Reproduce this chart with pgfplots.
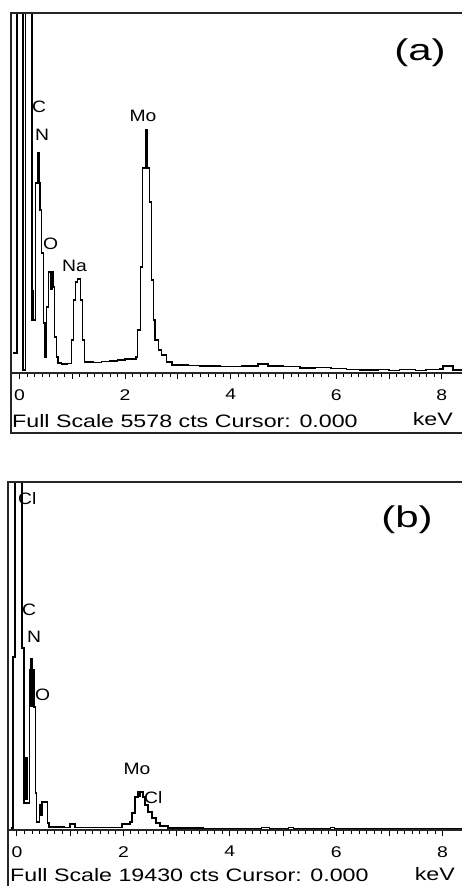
\documentclass[border=0pt]{standalone}
\usepackage{pgfplots}
\pgfplotsset{compat=1.18}
\usepackage{graphicx}
\usepackage{fontspec}
\setmainfont{Liberation Sans}

% EDS spectra, panel (a) and (b)
\pgfplotstableread{
E c
-0.123 310
-0.047 9000
0.066 46
0.114 9000
0.237 820
0.307 2943
0.388 2525
0.420 1859
0.451 775
0.483 248
0.515 1022
0.545 1564
0.634 1332
0.663 558
0.700 248
0.729 155
0.80 140
0.90 150
0.985 511
1.023 1130
1.061 1410
1.098 1456
1.155 1130
1.193 511
1.231 170
1.40 165
1.55 175
1.714 186
1.85 200
1.998 217
2.206 248
2.231 666
2.295 1642
2.333 3175
2.458 2649
2.504 1441
2.534 821
2.566 511
2.629 356
2.693 279
2.788 170
2.888 124
3.2 115
3.419 108
3.8 100
4.2 108
4.517 139
4.706 108
5.0 95
5.311 77
5.6 85
5.9 70
6.2 60
6.449 46
6.8 55
7.0 40
7.2 60
7.5 45
7.7 55
7.964 62
8.02 108
8.21 46
8.45 46
}\specA

\pgfplotstableread{
E c
-0.113 112
-0.075 9659
-0.038 30000
0.094 10161
0.132 1507
0.235 8933
0.320 6867
0.348 2066
0.367 447
0.423 1396
0.451 837
0.470 1563
0.573 391
0.602 168
0.90 150
0.996 335
1.09 140
1.5 150
1.9 160
1.974 335
2.124 447
2.162 949
2.218 1842
2.274 2122
2.368 1842
2.406 1396
2.462 1005
2.538 670
2.613 391
2.688 223
2.838 112
3.5 100
4.6 140
4.75 100
5.1 120
5.2 100
5.9 150
5.97 100
7.0 90
8.45 90
}\specB

\newcommand{\sx}[2]{\scalebox{#1}[1]{#2}}

\begin{document}
\begin{tikzpicture}[x=1pt,y=1pt]
\useasboundingbox (0,0) rectangle (462,-886);
\tikzset{
  kl/.style={black, line width=3pt},
  el/.style={font=\fontsize{16.5}{17}\selectfont, inner sep=0pt},
}
\pgfplotsset{
  eds/.style={
    scale only axis,
    axis line style={line width=1.2pt, black!85},
    xtick={0,1,2,3,4,5,6,7,8},
    xticklabels={\sx{1.25}{0},,\sx{1.25}{2},,\sx{1.25}{4},,\sx{1.25}{6},,\sx{1.25}{8}},
    minor x tick num=6,
    ytick=\empty,
    xtick pos=bottom,
    tick align=outside,
    major tick length=6pt,
    minor tick length=4pt,
    every tick/.style={black, line width=1pt},
    xticklabel style={font=\fontsize{15.5}{16}\selectfont, inner sep=1pt, yshift=-9pt},
    ymin=0,
    const plot,
  },
  spec/.style={black, line width=1.2pt, no marks},
}

% ---- panel (a)
\begin{axis}[eds, at={(11pt,-373pt)}, anchor=south west,
  width=453pt, height=360pt,
  xmin=-0.161, xmax=8.419, ymax=5578]
\addplot[spec] table[x=E, y=c] {\specA};
\draw[kl] (axis cs:0.237,1285) -- (axis cs:0.237,820);
\draw[kl] (axis cs:0.356,3423) -- (axis cs:0.356,2960);
\draw[kl] (axis cs:0.606,1564) -- (axis cs:0.606,1285);
\draw[kl] (axis cs:2.40,3780) -- (axis cs:2.40,3175);
\node[el, anchor=west] at (axis cs:0.237,4120) {\sx{1.17}{C}};
\node[el, anchor=west] at (axis cs:0.294,3687) {\sx{1.17}{N}};
\node[el, anchor=west] at (axis cs:0.445,1998) {\sx{1.17}{O}};
\node[el, anchor=west] at (axis cs:0.805,1657) {\sx{1.17}{Na}};
\node[el] at (axis cs:2.339,3981) {\sx{1.17}{Mo}};
\node[font=\fontsize{30}{30}\selectfont, inner sep=0pt] at (axis cs:7.585,4957) {\sx{1.4}{(a)}};
\end{axis}
\draw[line width=1.2pt, black!85] (11,-13) rectangle (466,-433);
\node[anchor=base west, inner sep=0pt, font=\fontsize{18}{18}\selectfont] at (12,-427) {\sx{1.29}{Full Scale 5578 cts Cursor: 0.000}};
\node[anchor=base east, inner sep=0pt, font=\fontsize{18}{18}\selectfont] at (453,-425) {\sx{1.29}{keV}};

% ---- panel (b)
\begin{axis}[eds, at={(8pt,-830pt)}, anchor=south west,
  width=456pt, height=348pt,
  xmin=-0.169, xmax=8.402, ymax=19430]
\addplot[spec] table[x=E, y=c] {\specB};
\draw[kl] (axis cs:0.179,4076) -- (axis cs:0.179,1675);
\draw[kl] (axis cs:0.282,9603) -- (axis cs:0.282,6867);
\draw[kl] (axis cs:2.312,2122) -- (axis cs:2.312,1842);
\node[el, anchor=west] at (axis cs:0.019,18480) {\sx{1.17}{Cl}};
\node[el, anchor=west] at (axis cs:0.094,12283) {\sx{1.17}{C}};
\node[el, anchor=west] at (axis cs:0.188,10775) {\sx{1.17}{N}};
\node[el, anchor=west] at (axis cs:0.338,7537) {\sx{1.17}{O}};
\node[el] at (axis cs:2.256,3406) {\sx{1.17}{Mo}};
\node[el, anchor=west] at (axis cs:2.387,1787) {\sx{1.17}{Cl}};
\node[font=\fontsize{30}{30}\selectfont, inner sep=0pt] at (axis cs:7.331,17307) {\sx{1.4}{(b)}};
\end{axis}
\draw[line width=1.2pt, black!85] (8,-890) -- (8,-482) -- (466,-482);
\node[anchor=base west, inner sep=0pt, font=\fontsize{18}{18}\selectfont] at (10,-881) {\sx{1.29}{Full Scale 19430 cts Cursor: 0.000}};
\node[anchor=base east, inner sep=0pt, font=\fontsize{18}{18}\selectfont] at (455,-880) {\sx{1.29}{keV}};
\end{tikzpicture}
\end{document}
